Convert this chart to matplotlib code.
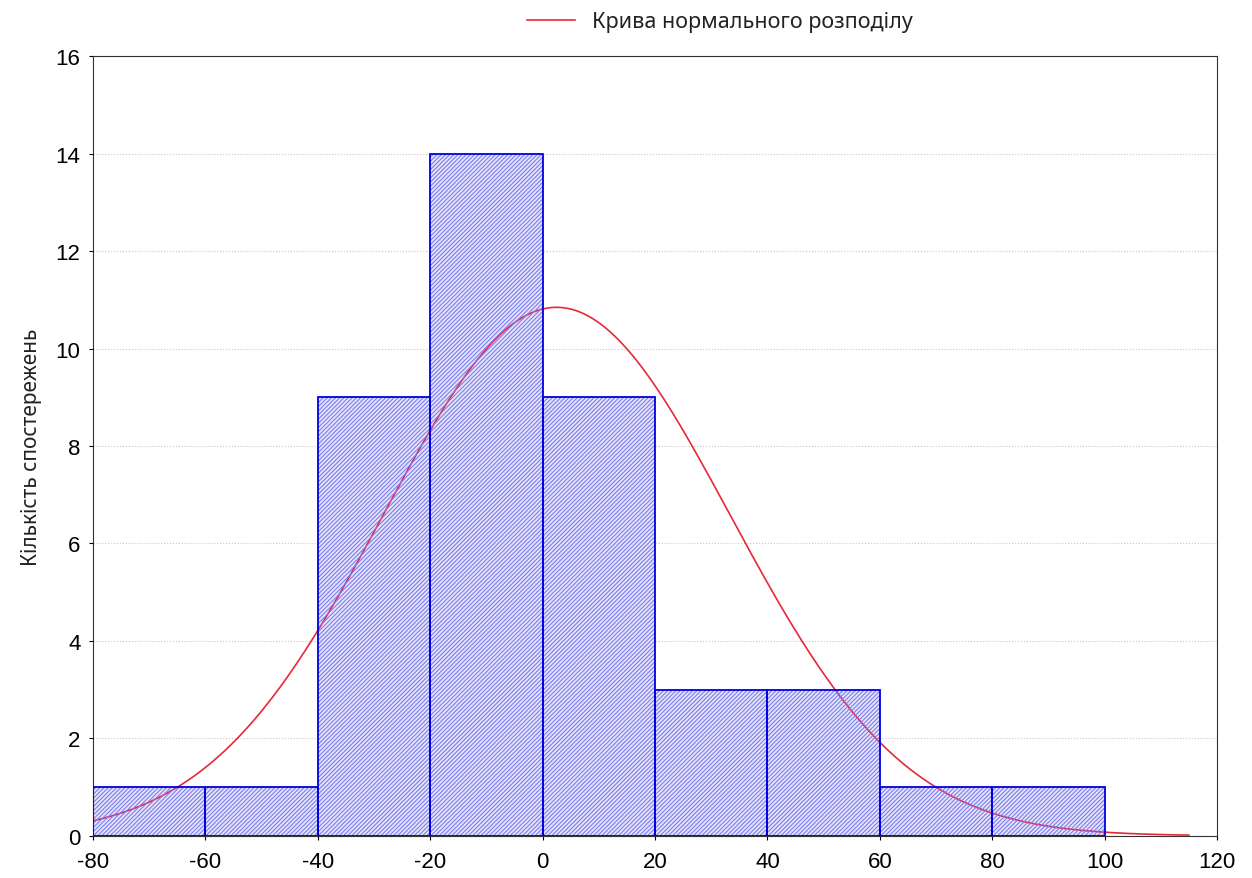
import numpy as np
import matplotlib
matplotlib.use("Agg")
import matplotlib.pyplot as plt

bin_edges = [-80, -60, -40, -20, 0, 20, 40, 60, 80, 100]
counts = [1, 1, 9, 14, 9, 3, 3, 1, 1]
curve_mean = 2.5
curve_sigma = 30.9
n_obs = sum(counts)
bin_width = 20
curve_range = (-80, 115)
x_ticks = [-80, -60, -40, -20, 0, 20, 40, 60, 80, 100, 120]
y_ticks = [0, 2, 4, 6, 8, 10, 12, 14, 16]
ylabel = "Кількість спостережень"
legend_label = "Крива нормального розподілу"

plt.rcParams['font.family'] = ['Liberation Sans', 'DejaVu Sans']
plt.rcParams['axes.unicode_minus'] = False
plt.rcParams['hatch.linewidth'] = 0.8

fig = plt.figure(figsize=(12.52, 8.79), dpi=100)
ax = fig.add_axes([0.0743, 0.048, 0.8977, 0.887])

xs = np.linspace(curve_range[0], curve_range[1], 400)
ys = n_obs * bin_width / (curve_sigma * np.sqrt(2 * np.pi)) * np.exp(-(xs - curve_mean) ** 2 / (2 * curve_sigma ** 2))

lefts = bin_edges[:-1]
ax.bar(lefts, counts, width=bin_width, align='edge', facecolor='#e4e4fb',
       linewidth=0, zorder=1)
line, = ax.plot(xs, ys, color='#e8283a', lw=1.2, zorder=2, label=legend_label)
ax.bar(lefts, counts, width=bin_width, align='edge', facecolor='none',
       edgecolor='#7d7df0', linewidth=0, hatch='////////', zorder=3)
ax.bar(lefts, counts, width=bin_width, align='edge', facecolor='none',
       edgecolor='#0000e0', linewidth=1.3, zorder=4)

ax.set_xlim(-80, 120)
ax.set_ylim(0, 16)
ax.set_xticks(x_ticks)
ax.set_yticks(y_ticks)
ax.tick_params(labelsize=16, length=3, direction='out')
ax.tick_params(axis='x', pad=8)
ax.tick_params(axis='y', pad=6)
ax.yaxis.grid(True, linestyle=':', color='#c8c8c8', lw=0.8)
ax.set_axisbelow(True)
for s in ax.spines.values():
    s.set_color('#333333')
ax.set_ylabel(ylabel, fontsize=15, family=['Noto Sans', 'DejaVu Sans'], labelpad=10, color='#222222')

fig.legend(handles=[line], loc='upper center', bbox_to_anchor=(0.575, 1.008), frameon=False,
           prop={'family': ['Noto Sans', 'DejaVu Sans'], 'size': 15.5}, handlelength=2.2,
           labelcolor='#222222')

fig.savefig('out.png', dpi=100)
